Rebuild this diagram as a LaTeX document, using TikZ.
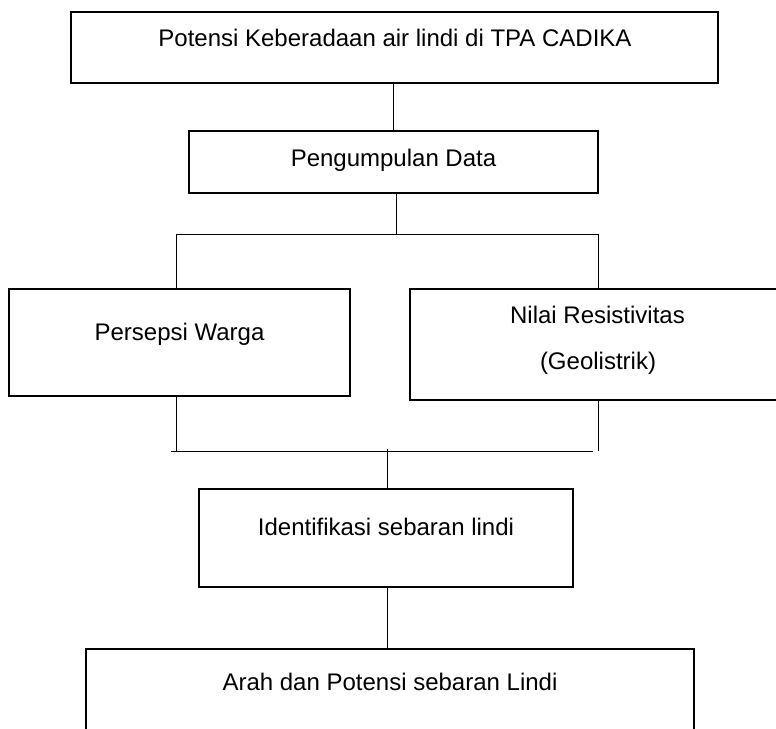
\documentclass[tikz,border=0pt]{standalone}
\usepackage{fontspec}
\setmainfont{Liberation Sans}
\begin{document}
\begin{tikzpicture}[x=1pt,y=-1pt,
  boxnode/.style={draw=black,line width=1.5pt,rectangle,inner sep=0pt,outer sep=0pt},
  label/.style={inner sep=0pt,anchor=base,font=\fontsize{24}{28}\selectfont},
  conn/.style={draw=black,line width=0.9pt}]
\useasboundingbox (0,0) rectangle (776,728);
\clip (0,0) rectangle (776,728);
% boxes
\node[boxnode,minimum width=647pt,minimum height=71pt] (b1) at (394.5,47.5) {};
\node[boxnode,minimum width=409pt,minimum height=62pt] (b2) at (393.5,162) {};
\node[boxnode,minimum width=341pt,minimum height=107pt] (b3) at (179.5,342.5) {};
\node[boxnode,minimum width=380pt,minimum height=111pt] (b4) at (600,344.5) {};
\node[boxnode,minimum width=374pt,minimum height=98pt] (b5) at (386,538) {};
\node[boxnode,minimum width=608pt,minimum height=91pt] (b6) at (390,694.5) {};
% texts
\node[label] (t1) at (395,46) {Potensi Keberadaan air lindi di TPA CADIKA};
\node[label] (t2) at (393.5,166) {Pengumpulan Data};
\node[label] (t3) at (179.5,340) {Persepsi Warga};
\node[label] (t4a) at (597.5,323) {Nilai Resistivitas};
\node[label] (t4b) at (598,369) {(Geolistrik)};
\node[label] (t5) at (386,535) {Identifikasi sebaran lindi};
\node[label] (t6) at (390,690) {Arah dan Potensi sebaran Lindi};
% junction coordinates
\coordinate (c1) at (393.5,100);
\coordinate (j1) at (396,234);
\coordinate (jl) at (176,234);
\coordinate (jr) at (598,234);
\coordinate (kl) at (176,451);
\coordinate (kr) at (598,451);
\coordinate (hl) at (171,451);
\coordinate (hr) at (593,451);
\coordinate (k1) at (387,449);
\coordinate (k2) at (387,600);
% connectors
\draw[conn] (b1.south -| c1) -- (b2.north -| c1);
\draw[conn] (b2.south -| j1) -- (j1);
\draw[conn] (jl) -- (jr);
\draw[conn] (jl) -- (b3.north -| jl);
\draw[conn] (jr) -- (b4.north -| jr);
\draw[conn] (b3.south -| kl) -- (kl);
\draw[conn] (b4.south -| kr) -- (kr);
\draw[conn] (hl) -- (hr);
\draw[conn] (k1) -- (b5.north -| k1);
\draw[conn] (b5.south -| k2) -- (b6.north -| k2);
\end{tikzpicture}
\end{document}
